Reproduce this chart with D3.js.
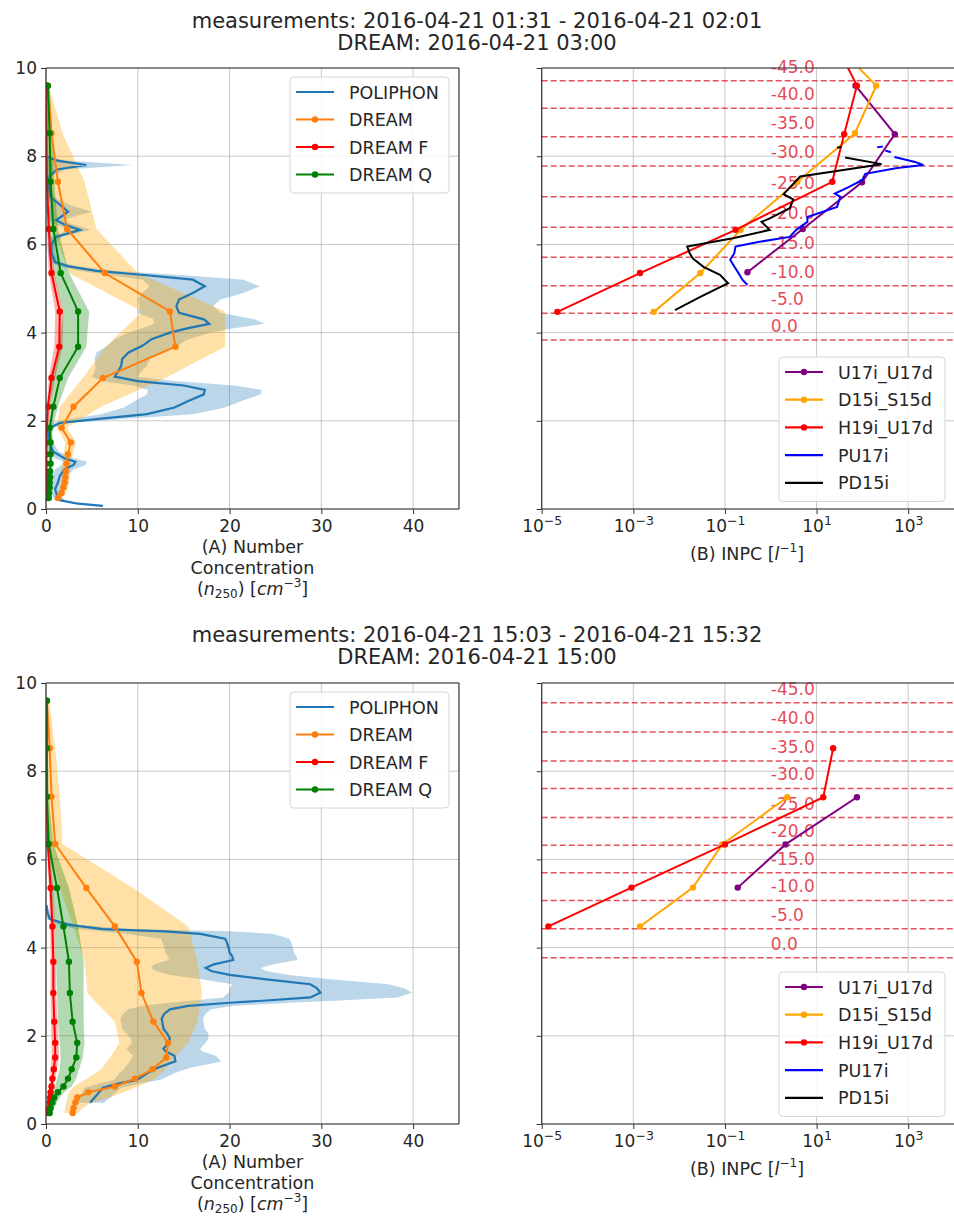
<!DOCTYPE html>
<html>
<head>
<meta charset="utf-8">
<script src="https://cdn.jsdelivr.net/npm/d3@7"></script>
<style>
body { margin: 0; background: #fff; }
text { font-family: "DejaVu Sans", sans-serif; fill: #262626; }
</style>
</head>
<body>
<div id="chart"></div>
<script>
// Width and height
var w = 954;
var h = 1218;

// ---------------- data ----------------
const titles = [
    ["measurements: 2016-04-21 01:31 - 2016-04-21 02:01", "DREAM: 2016-04-21 03:00"],
    ["measurements: 2016-04-21 15:03 - 2016-04-21 15:32", "DREAM: 2016-04-21 15:00"]
];

const xTicksA = [0, 10, 20, 30, 40];
const yTicks = [0, 2, 4, 6, 8, 10];
const xTicksB = [1e-5, 1e-3, 1e-1, 1e1, 1e3];

const seriesNamesA = ["POLIPHON", "DREAM", "DREAM F", "DREAM Q"];
const inpcNames = ["U17i_U17d", "D15i_S15d", "H19i_U17d", "PU17i", "PD15i"];

// temperature levels (degC) and their altitudes (km)
const tempLabels = [0, -5, -10, -15, -20, -25, -30, -35, -40, -45];
const tempAltTop = [3.83, 4.44, 5.06, 5.71, 6.39, 7.08, 7.78, 8.44, 9.09, 9.71];
const tempAltBot = [3.77, 4.43, 5.07, 5.70, 6.32, 6.95, 7.61, 8.23, 8.89, 9.55];

// DREAM model levels (km)
const dreamAlt = [0.25, 0.36, 0.49, 0.60, 0.72, 0.85, 1.03, 1.24, 1.51, 1.84, 2.32, 2.97, 3.68, 4.48, 5.35, 6.35, 7.42, 8.52, 9.60];

// top: DREAM
const dreamTop   = [1.3, 1.7, 1.9, 2.05, 2.1, 2.15, 2.25, 2.4, 2.7, 1.7, 3.0, 6.2, 14.1, 13.5, 6.4, 2.3, 1.3, 0.6, 0.2];
const dreamTopLo = [1.0, 1.3, 1.5, 1.6, 1.7, 1.7, 1.8, 1.9, 2.1, 1.2, 1.5, 4.0, 6.5, 10.5, 2.5, 0.8, 0.3, 0.1, 0];
const dreamTopHi = [1.7, 2.1, 2.4, 2.5, 2.6, 2.6, 2.7, 2.9, 3.3, 2.3, 6.0, 13.0, 19.5, 19.5, 10.0, 5.5, 4.2, 1.8, 0.3];
const dreamFTop   = [0.05, 0.05, 0.05, 0.05, 0.05, 0.05, 0.05, 0.05, 0.05, 0.1, 0.2, 0.6, 1.45, 1.5, 0.6, 0.3, 0.1, 0.05, 0.02];
const dreamFTopLo = [0.02, 0.02, 0.02, 0.02, 0.02, 0.02, 0.02, 0.02, 0.02, 0.05, 0.1, 0.3, 0.9, 1.0, 0.3, 0.1, 0.03, 0.01, 0];
const dreamFTopHi = [0.1, 0.1, 0.1, 0.1, 0.1, 0.1, 0.1, 0.1, 0.15, 0.2, 0.4, 1.0, 1.8, 1.9, 0.9, 0.5, 0.2, 0.1, 0.05];
const dreamQTop   = [0.3, 0.35, 0.4, 0.4, 0.45, 0.45, 0.5, 0.5, 0.5, 0.4, 0.8, 1.5, 3.5, 3.5, 1.6, 0.8, 0.5, 0.4, 0.2];
const dreamQTopLo = [0.15, 0.2, 0.2, 0.2, 0.25, 0.25, 0.3, 0.3, 0.3, 0.2, 0.4, 0.6, 1.4, 1.9, 0.8, 0.4, 0.2, 0.1, 0.05];
const dreamQTopHi = [0.5, 0.55, 0.6, 0.6, 0.7, 0.7, 0.7, 0.7, 0.7, 0.7, 1.3, 2.4, 4.4, 4.7, 2.5, 1.3, 0.9, 0.7, 0.4];

// bottom: DREAM
const dreamBot   = [2.9, 3.0, 3.2, 3.4, 4.6, 7.5, 9.7, 11.6, 13.1, 13.3, 11.7, 10.4, 9.9, 7.5, 4.4, 1.0, 0.6, 0.4, 0.1];
const dreamBotLo = [2.0, 2.1, 2.2, 2.3, 2.5, 3.0, 4.5, 6.0, 7.0, 8.0, 7.5, 4.5, 4.2, 3.0, 1.5, 0.3, 0.1, 0, 0];
const dreamBotHi = [3.5, 4.0, 5.0, 7.0, 8.5, 10.0, 12.0, 13.0, 14.0, 15.5, 16.5, 17.0, 16.5, 15.5, 9.5, 1.8, 1.5, 1.0, 0.3];
const dreamFBot   = [0.2, 0.3, 0.4, 0.45, 0.5, 0.6, 0.7, 0.85, 1.0, 1.0, 0.9, 0.8, 0.8, 0.7, 0.5, 0.2, 0.05, 0.02, 0.01];
const dreamFBotLo = [0.1, 0.15, 0.2, 0.25, 0.3, 0.35, 0.4, 0.5, 0.6, 0.6, 0.55, 0.5, 0.5, 0.45, 0.3, 0.1, 0.02, 0.01, 0];
const dreamFBotHi = [0.3, 0.45, 0.6, 0.65, 0.7, 0.85, 1.0, 1.2, 1.4, 1.4, 1.25, 1.1, 1.1, 1.0, 0.8, 0.35, 0.1, 0.05, 0.02];
const dreamQBot   = [0.4, 0.5, 0.7, 0.9, 1.3, 1.9, 2.4, 2.8, 3.3, 3.4, 2.9, 2.6, 2.5, 1.9, 1.2, 0.3, 0.1, 0.1, 0.1];
const dreamQBotLo = [0.2, 0.3, 0.4, 0.5, 0.7, 1.0, 1.2, 1.5, 1.6, 1.5, 1.3, 1.2, 1.1, 1.0, 0.5, 0.1, 0, 0, 0];
const dreamQBotHi = [0.7, 0.9, 1.2, 1.5, 2.0, 2.8, 3.3, 3.6, 4.0, 4.2, 4.1, 4.1, 4.1, 3.5, 2.5, 0.8, 0.3, 0.2, 0.2];

// POLIPHON profiles (km, cm-3, std)
const polAltTop = [0.07, 0.12, 0.2, 0.3, 0.45, 0.6, 0.75, 0.9, 1.0, 1.07, 1.15, 1.3, 1.5, 1.7, 1.85, 1.95, 2.05, 2.15, 2.3, 2.45,
    2.6, 2.7, 2.8, 2.9, 3.0, 3.1, 3.25, 3.4, 3.55, 3.7, 3.85, 4.0, 4.1, 4.2, 4.3, 4.45, 4.6, 4.75, 4.9, 5.05,
    5.2, 5.3, 5.4, 5.5, 5.6, 5.8, 6.0, 6.17, 6.33, 6.45, 6.55, 6.65, 6.74, 6.9, 7.07, 7.3, 7.55, 7.7, 7.8, 7.9, 7.98];
const polTop = [6.2, 3.5, 1.5, 1.2, 1.0, 1.3, 1.5, 2.0, 3.0, 3.2, 2.0, 0.8, 0.4, 0.3, 0.5, 1.5, 6.0, 11.0, 14.0, 15.5,
    17.2, 17.3, 15.0, 10.0, 7.5, 7.8, 8.2, 8.3, 9.0, 10.5, 11.5, 13.5, 15.5, 17.8, 17.2, 14.5, 14.2, 14.5, 16.0, 17.3,
    16.0, 11.0, 5.5, 2.5, 1.0, 0.6, 0.6, 1.1, 3.7, 2.0, 1.1, 1.8, 2.4, 1.5, 0.5, 0.3, 0.4, 1.2, 4.4, 1.2, 0.2];
const polTopStd = [0.3, 0.5, 0.5, 0.5, 0.6, 0.7, 0.8, 1.0, 1.3, 1.3, 1.0, 0.6, 0.4, 0.3, 0.4, 1.0, 3.0, 5.0, 5.5, 5.8,
    6.2, 6.2, 5.5, 4.0, 2.5, 2.5, 2.8, 3.0, 3.5, 3.8, 4.0, 4.5, 5.0, 6.0, 5.5, 4.5, 4.0, 4.5, 5.5, 6.0,
    5.5, 4.0, 2.0, 1.0, 0.5, 0.4, 0.4, 0.6, 1.2, 1.0, 0.8, 1.5, 2.6, 1.0, 0.4, 0.3, 0.3, 1.0, 5.0, 1.0, 0.2];

const polAltBot = [0.48, 0.6, 0.7, 0.82, 0.92, 1.0, 1.15, 1.27, 1.42, 1.55, 1.65, 1.71, 1.82, 1.94, 2.05, 2.16, 2.28, 2.39, 2.5, 2.6,
    2.68, 2.75, 2.8, 2.87, 2.98, 3.08, 3.17, 3.28, 3.38, 3.47, 3.54, 3.62, 3.72, 3.8, 3.89, 4.0, 4.12, 4.2, 4.31, 4.37,
    4.42, 4.52, 4.65, 4.77, 4.96];
const polBot = [4.8, 5.3, 5.7, 6.2, 8.0, 9.9, 11.0, 12.1, 14.1, 14.0, 13.0, 12.8, 13.3, 13.5, 13.2, 12.8, 12.7, 12.6, 12.9, 13.5,
    15.5, 20.0, 24.0, 28.8, 29.9, 29.5, 28.8, 24.0, 20.0, 18.0, 17.4, 18.3, 20.4, 20.3, 20.0, 19.9, 19.7, 19.5, 16.8, 13.0,
    6.2, 2.4, 0.4, 0.2, 0.05];
const polBotStd = [1.5, 1.7, 1.8, 2.0, 2.2, 2.5, 3.0, 3.5, 5.0, 4.5, 4.0, 4.0, 4.0, 4.2, 4.5, 4.5, 4.5, 4.5, 4.5, 4.5,
    5.0, 6.5, 8.0, 9.5, 10.0, 9.5, 8.5, 7.0, 6.5, 6.0, 6.0, 6.5, 7.0, 7.0, 7.0, 7.0, 7.0, 7.0, 8.0, 7.0,
    3.0, 1.0, 0.3, 0.2, 0.1];

// INPC (l-1), top row
const u17AltTop = [5.37, 6.35, 7.41, 8.50, 9.60];
const u17Top    = [0.31, 5.0, 98, 510, 71];
const d15AltTop = [4.47, 5.35, 6.33, 7.42, 8.52, 9.60, 10.8];
const d15Top    = [2.8e-3, 0.029, 0.22, 3.8, 69, 200, 15];
const h19AltTop = [4.47, 5.35, 6.33, 7.42, 8.50, 9.60, 10.8];
const h19Top    = [2.2e-5, 1.4e-3, 0.17, 22, 40, 76, 20];
const pu17AltTop = [5.08, 5.20, 5.34, 5.50, 5.65, 5.80, 5.95, 6.05, 6.17, 6.33, 6.51, 6.62, 6.85, 7.08, 7.15, 7.30, 7.46, 7.60, 7.73, 7.80, 7.87, 7.98,
    8.03, 8.09, 8.13, 8.17, 8.20, 8.22];
const pu17Top    = [0.31, 0.24, 0.20, 0.16, 0.13, 0.16, 0.17, 0.5, 2.6, 3.6, 6.3, 6.3, 28, 33, 25, 50, 100, 115, 575, 2140, 1410, 500,
    null, 420, 316, null, 210, 280];
const pd15AltTop = [4.51, 4.81, 5.12, 5.31, 5.49, 5.68, 5.80, 5.95, 6.14, 6.33, 6.51, 6.59, 6.82, 7.02, 7.14, 7.54, 7.82, 7.97,
    8.08, 8.19, 8.21];
const pd15Top    = [8.1e-3, 0.029, 0.117, 0.078, 0.034, 0.020, 0.017, 0.015, 0.15, 0.95, 0.63, 0.95, 2.6, 3.1, 1.9, 4.4, 263, 42,
    null, 28, 35];

// INPC (l-1), bottom row
const u17AltBot = [5.36, 6.34, 7.41];
const u17Bot    = [0.19, 2.1, 76];
const d15AltBot = [4.48, 5.36, 6.34, 7.41];
const d15Bot    = [1.4e-3, 0.02, 0.087, 2.3];
const h19AltBot = [4.48, 5.36, 6.34, 7.41, 8.52];
const h19Bot    = [1.4e-5, 9.1e-4, 0.10, 14, 23];

// ---------------- layout ----------------
const rowTop = [68, 683];
const rowH = 441;
const rowShift = [0, 614];
const rangeA = [46, 459];
const rangeB = [541.7, 954];
const colorsA = ["#1f77b4", "#ff7f0e", "red", "green"];
const colorsB = ["purple", "orange", "red", "blue", "black"];
const markersB = [true, true, true, false, false];
const tempColor = "#e2323f";

const rows = [
    {
        pol: { alt: polAltTop, v: polTop, sd: polTopStd },
        dream: [
            { v: dreamTop, lo: dreamTopLo, hi: dreamTopHi },
            { v: dreamFTop, lo: dreamFTopLo, hi: dreamFTopHi },
            { v: dreamQTop, lo: dreamQTopLo, hi: dreamQTopHi }
        ],
        temp: tempAltTop,
        inpc: [[u17AltTop, u17Top], [d15AltTop, d15Top], [h19AltTop, h19Top], [pu17AltTop, pu17Top], [pd15AltTop, pd15Top]]
    },
    {
        pol: { alt: polAltBot, v: polBot, sd: polBotStd },
        dream: [
            { v: dreamBot, lo: dreamBotLo, hi: dreamBotHi },
            { v: dreamFBot, lo: dreamFBotLo, hi: dreamFBotHi },
            { v: dreamQBot, lo: dreamQBotLo, hi: dreamQBotHi }
        ],
        temp: tempAltBot,
        inpc: [[u17AltBot, u17Bot], [d15AltBot, d15Bot], [h19AltBot, h19Bot], [[], []], [[], []]]
    }
];

//Create SVG element
var svg = d3.select("#chart")
    .append("svg")
    .attr("width", w)
    .attr("height", h);

function styleAxis(g) {
    g.select(".domain").remove();
    g.selectAll(".tick line").attr("stroke", "#333").attr("stroke-width", 1);
    g.selectAll(".tick text").attr("font-size", "17px").attr("fill", "#262626");
}

function drawGrid(g, xs, ys, xVals, top, bottom, left, right) {
    g.append("g").selectAll("line").data(xVals).enter().append("line")
        .attr("x1", d => xs(d)).attr("x2", d => xs(d))
        .attr("y1", top).attr("y2", bottom)
        .attr("stroke", "#b0b0b0").attr("stroke-opacity", 0.7).attr("stroke-width", 1);
    g.append("g").selectAll("line").data(yTicks).enter().append("line")
        .attr("x1", left).attr("x2", right)
        .attr("y1", d => ys(d)).attr("y2", d => ys(d))
        .attr("stroke", "#b0b0b0").attr("stroke-opacity", 0.7).attr("stroke-width", 1);
}

function drawSpines(g, left, right, top, bottom, withRight) {
    var st = g.append("g").attr("stroke", "#333").attr("stroke-width", 1.2);
    st.append("line").attr("x1", left).attr("x2", left).attr("y1", top).attr("y2", bottom);
    st.append("line").attr("x1", left).attr("x2", right).attr("y1", bottom).attr("y2", bottom);
    st.append("line").attr("x1", left).attr("x2", right).attr("y1", top).attr("y2", top);
    if (withRight) st.append("line").attr("x1", right).attr("x2", right).attr("y1", top).attr("y2", bottom);
}

function drawLegend(g, x, y, width, names, colors, markers, rowStep) {
    var boxH = names.length * rowStep + 6;
    g.append("rect")
        .attr("x", x).attr("y", y).attr("width", width).attr("height", boxH)
        .attr("rx", 4).attr("fill", "white").attr("fill-opacity", 0.85)
        .attr("stroke", "#d6d6d6").attr("stroke-width", 1);
    names.forEach(function (name, i) {
        var cy = y + 15 + i * rowStep;
        g.append("line")
            .attr("x1", x + 6).attr("x2", x + 44).attr("y1", cy).attr("y2", cy)
            .attr("stroke", colors[i]).attr("stroke-width", 2.2);
        if (markers[i]) {
            g.append("circle").attr("cx", x + 25).attr("cy", cy).attr("r", 3.2).attr("fill", colors[i]);
        }
        g.append("text")
            .attr("x", x + 59).attr("y", cy + 6.5)
            .attr("font-size", "17.5px")
            .text(name);
    });
}

rows.forEach(function (row, r) {
    var top = rowTop[r], bottom = top + rowH, sh = rowShift[r];

    var yScale = d3.scaleLinear().domain([0, 10]).range([bottom, top]);
    var xScaleA = d3.scaleLinear().domain([0, 45]).range(rangeA);
    var xScaleB = d3.scaleLog().domain([1e-5, 1e4]).range(rangeB);

    // titles
    svg.append("text").attr("x", 477).attr("y", 28 + sh).attr("text-anchor", "middle")
        .attr("font-size", "21px").text(titles[r][0]);
    svg.append("text").attr("x", 477).attr("y", 50 + sh).attr("text-anchor", "middle")
        .attr("font-size", "21px").text(titles[r][1]);

    var clipA = "clipA" + r, clipB = "clipB" + r;
    var defs = svg.append("defs");
    defs.append("clipPath").attr("id", clipA).append("rect")
        .attr("x", rangeA[0]).attr("y", top).attr("width", rangeA[1] - rangeA[0]).attr("height", rowH);
    defs.append("clipPath").attr("id", clipB).append("rect")
        .attr("x", rangeB[0]).attr("y", top).attr("width", rangeB[1] - rangeB[0]).attr("height", rowH);

    // ---------- panel A ----------
    var gA = svg.append("g");
    drawGrid(gA, xScaleA, yScale, xTicksA, top, bottom, rangeA[0], rangeA[1]);

    var plotA = gA.append("g").attr("clip-path", "url(#" + clipA + ")");

    var polData = row.pol.alt.map((a, i) => ({ alt: a, v: row.pol.v[i], lo: row.pol.v[i] - row.pol.sd[i], hi: row.pol.v[i] + row.pol.sd[i] }));
    var dreamData = row.dream.map(s => dreamAlt.map((a, i) => ({ alt: a, v: s.v[i], lo: s.lo[i], hi: s.hi[i] })));

    var band = d3.area()
        .y(d => yScale(d.alt))
        .x0(d => xScaleA(d.lo))
        .x1(d => xScaleA(d.hi));
    var profile = d3.line()
        .x(d => xScaleA(d.v))
        .y(d => yScale(d.alt));

    plotA.append("path").datum(polData).attr("d", band)
        .attr("fill", colorsA[0]).attr("fill-opacity", 0.3);
    var bandOpacity = [0.35, 0.3, 0.3];
    var bandColors = ["orange", "red", "green"];
    dreamData.forEach(function (s, k) {
        plotA.append("path").datum(s).attr("d", band)
            .attr("fill", bandColors[k]).attr("fill-opacity", bandOpacity[k]);
    });

    plotA.append("path").datum(polData).attr("d", profile)
        .attr("fill", "none").attr("stroke", colorsA[0]).attr("stroke-width", 2.2);
    dreamData.forEach(function (s, k) {
        plotA.append("path").datum(s).attr("d", profile)
            .attr("fill", "none").attr("stroke", colorsA[k + 1]).attr("stroke-width", 2);
        plotA.append("g").selectAll("circle").data(s).enter().append("circle")
            .attr("cx", d => xScaleA(d.v)).attr("cy", d => yScale(d.alt))
            .attr("r", 3.2).attr("fill", colorsA[k + 1]);
    });

    drawSpines(gA, rangeA[0], rangeA[1], top, bottom, true);

    var xAxisA = d3.axisBottom(xScaleA).tickValues(xTicksA).tickSize(5).tickPadding(6);
    gA.append("g").attr("transform", "translate(0," + bottom + ")").call(xAxisA).call(styleAxis);
    var yAxisA = d3.axisLeft(yScale).tickValues(yTicks).tickSize(5).tickPadding(4);
    gA.append("g").attr("transform", "translate(" + rangeA[0] + ",0)").call(yAxisA).call(styleAxis);

    // x label A
    var cxA = (rangeA[0] + rangeA[1]) / 2;
    gA.append("text").attr("x", cxA).attr("y", bottom + 44).attr("text-anchor", "middle")
        .attr("font-size", "17.5px").text("(A) Number");
    gA.append("text").attr("x", cxA).attr("y", bottom + 65).attr("text-anchor", "middle")
        .attr("font-size", "17.5px").text("Concentration");
    var lab3 = gA.append("text").attr("x", cxA).attr("y", bottom + 86).attr("text-anchor", "middle")
        .attr("font-size", "17.5px");
    lab3.append("tspan").text("(");
    lab3.append("tspan").attr("font-style", "italic").text("n");
    lab3.append("tspan").attr("font-size", "12px").attr("dy", 3).text("250");
    lab3.append("tspan").attr("dy", -3).text(") [");
    lab3.append("tspan").attr("font-style", "italic").text("cm");
    lab3.append("tspan").attr("font-size", "12px").attr("dy", -8).text("\u22123");
    lab3.append("tspan").attr("dy", 8).text("]");

    drawLegend(gA, 290, top + 9, 159, seriesNamesA, colorsA, [false, true, true, true], 27.5);

    // ---------- panel B ----------
    var gB = svg.append("g");
    drawGrid(gB, xScaleB, yScale, xTicksB, top, bottom, rangeB[0], rangeB[1]);

    // temperature levels
    gB.append("g").selectAll("line").data(row.temp).enter().append("line")
        .attr("x1", rangeB[0]).attr("x2", rangeB[1])
        .attr("y1", d => yScale(d)).attr("y2", d => yScale(d))
        .attr("stroke", tempColor).attr("stroke-opacity", 0.85)
        .attr("stroke-width", 1.5).attr("stroke-dasharray", "6,3");
    gB.append("g").selectAll("text").data(row.temp).enter().append("text")
        .attr("x", xScaleB(1)).attr("y", d => yScale(d) - 8)
        .attr("font-size", "17px").style("fill", tempColor).attr("fill-opacity", 0.9)
        .text((d, i) => tempLabels[i].toFixed(1));

    var plotB = gB.append("g").attr("clip-path", "url(#" + clipB + ")");
    var inpcLine = d3.line()
        .defined(d => d.v != null)
        .x(d => xScaleB(d.v))
        .y(d => yScale(d.alt));

    row.inpc.forEach(function (s, k) {
        var pts = s[0].map((a, i) => ({ alt: a, v: s[1][i] }));
        if (!pts.length) return;
        plotB.append("path").datum(pts).attr("d", inpcLine)
            .attr("fill", "none").attr("stroke", colorsB[k]).attr("stroke-width", 2);
        if (markersB[k]) {
            plotB.append("g").selectAll("circle").data(pts).enter().append("circle")
                .attr("cx", d => xScaleB(d.v)).attr("cy", d => yScale(d.alt))
                .attr("r", 3.2).attr("fill", colorsB[k]);
        }
    });

    drawSpines(gB, rangeB[0], rangeB[1], top, bottom, false);

    var xAxisB = d3.axisBottom(xScaleB).tickValues(xTicksB).tickSize(5).tickPadding(6);
    var axB = gB.append("g").attr("transform", "translate(0," + bottom + ")").call(xAxisB).call(styleAxis);
    axB.selectAll(".tick text").each(function (d) {
        var t = d3.select(this).text("");
        t.append("tspan").text("10");
        t.append("tspan").attr("font-size", "12.5px").attr("dy", -7)
            .text("\u2212".repeat(d < 1 ? 1 : 0) + Math.abs(Math.round(Math.log10(d))));
    });
    var yAxisB = d3.axisLeft(yScale).tickValues(yTicks).tickSize(5).tickFormat("");
    gB.append("g").attr("transform", "translate(" + rangeB[0] + ",0)").call(yAxisB).call(styleAxis);

    var labB = gB.append("text").attr("x", 747).attr("y", bottom + 51).attr("text-anchor", "middle")
        .attr("font-size", "17.5px");
    labB.append("tspan").text("(B) INPC [");
    labB.append("tspan").attr("font-style", "italic").text("l");
    labB.append("tspan").attr("font-size", "12px").attr("dy", -8).text("\u22121");
    labB.append("tspan").attr("dy", 8).text("]");

    drawLegend(gB, 779, top + 289, 166, inpcNames, colorsB, markersB, 27.7);
});
</script>
</body>
</html>
